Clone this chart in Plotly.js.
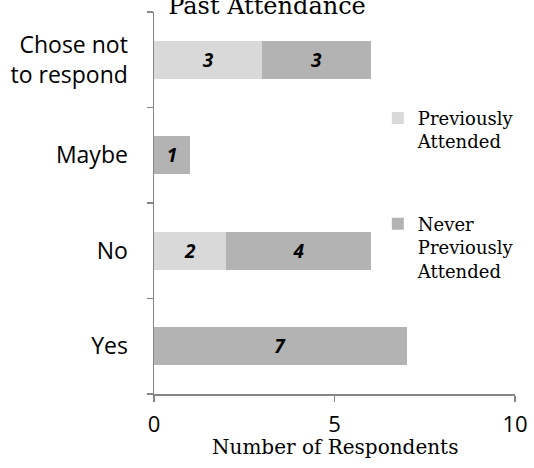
<!DOCTYPE html>
<html>
<head>
<meta charset="utf-8">
<script src="https://cdn.plot.ly/plotly-3.0.1.min.js"></script>
<style>html,body{margin:0;padding:0;background:#fff;}#chart{width:534px;height:468px;}</style>
</head>
<body>
<div id="chart"></div>
<script>
var categories = ["Yes", "No", "Maybe", "Chose not<br>to respond"];
var previouslyAttended = [0, 2, 0, 3];
var neverPreviouslyAttended = [7, 4, 1, 3];
var seriesNames = ["Previously<br>Attended", "Never<br>Previously<br>Attended"];
var xTicks = [0, 5, 10];
var chartTitle = "Past Attendance";
var xAxisTitle = "Number of Respondents";

function labels(vals) { return vals.map(function (v) { return v ? String(v) : ""; }); }

var labelFont = {family: "Open Sans, sans-serif", size: 19, color: "#000", weight: "bold", style: "italic"};

var traces = [
  {
    type: "bar", orientation: "h", name: seriesNames[0],
    y: categories, x: previouslyAttended,
    text: labels(previouslyAttended), texttemplate: "%{text}",
    textposition: "inside", insidetextanchor: "middle", textangle: 0,
    textfont: labelFont, constraintext: "none",
    marker: {color: "#d9d9d9"}, legendgroup: "a", hoverinfo: "skip"
  },
  {
    type: "bar", orientation: "h", name: seriesNames[1],
    y: categories, x: neverPreviouslyAttended,
    text: labels(neverPreviouslyAttended), texttemplate: "%{text}",
    textposition: "inside", insidetextanchor: "middle", textangle: 0,
    textfont: labelFont, constraintext: "none",
    marker: {color: "#b3b3b3"}, legendgroup: "b", hoverinfo: "skip"
  }
];

var layout = {
  width: 534, height: 468,
  margin: {l: 154, r: 19, t: 12, b: 74},
  paper_bgcolor: "#fff", plot_bgcolor: "#fff",
  barmode: "stack", bargap: 0.6,
  showlegend: true,
  title: {
    text: chartTitle,
    font: {family: "DejaVu Serif, serif", size: 24, color: "#000"},
    x: 0.5, xref: "container", y: 1.008, yref: "container", yanchor: "middle"
  },
  legend: {
    x: 0.62, xanchor: "left", y: 0.77, yanchor: "top",
    traceorder: "grouped", tracegroupgap: 56, valign: "top",
    font: {family: "DejaVu Serif, serif", size: 18, color: "#000"},
    bgcolor: "rgba(0,0,0,0)"
  },
  xaxis: {
    range: [0, 10], tickvals: xTicks, ticktext: xTicks.map(String),
    showgrid: false, zeroline: false,
    showline: true, linecolor: "#868686", linewidth: 1.5,
    ticks: "outside", ticklen: 6, tickcolor: "#868686", tickwidth: 1.5,
    ticklabelstandoff: 4,
    tickfont: {family: "Open Sans, sans-serif", size: 22, color: "#000"},
    fixedrange: true
  },
  yaxis: {
    type: "category", categoryorder: "array", categoryarray: categories,
    range: [-0.5, 3.5],
    showgrid: false, zeroline: false,
    showline: true, linecolor: "#868686", linewidth: 1.5,
    ticks: "outside", tickson: "boundaries", ticklen: 6, tickcolor: "#868686", tickwidth: 1.5,
    ticklabelstandoff: 20,
    tickfont: {family: "Open Sans, sans-serif", size: 23, color: "#000"},
    fixedrange: true
  },
  annotations: [{
    text: xAxisTitle, xref: "paper", yref: "paper", x: 0.5, y: -0.14,
    xanchor: "center", yanchor: "middle", showarrow: false,
    font: {family: "DejaVu Serif, serif", size: 20, color: "#000"}
  }]
};

Plotly.newPlot("chart", traces, layout, {displayModeBar: false, staticPlot: true});
</script>
</body>
</html>
